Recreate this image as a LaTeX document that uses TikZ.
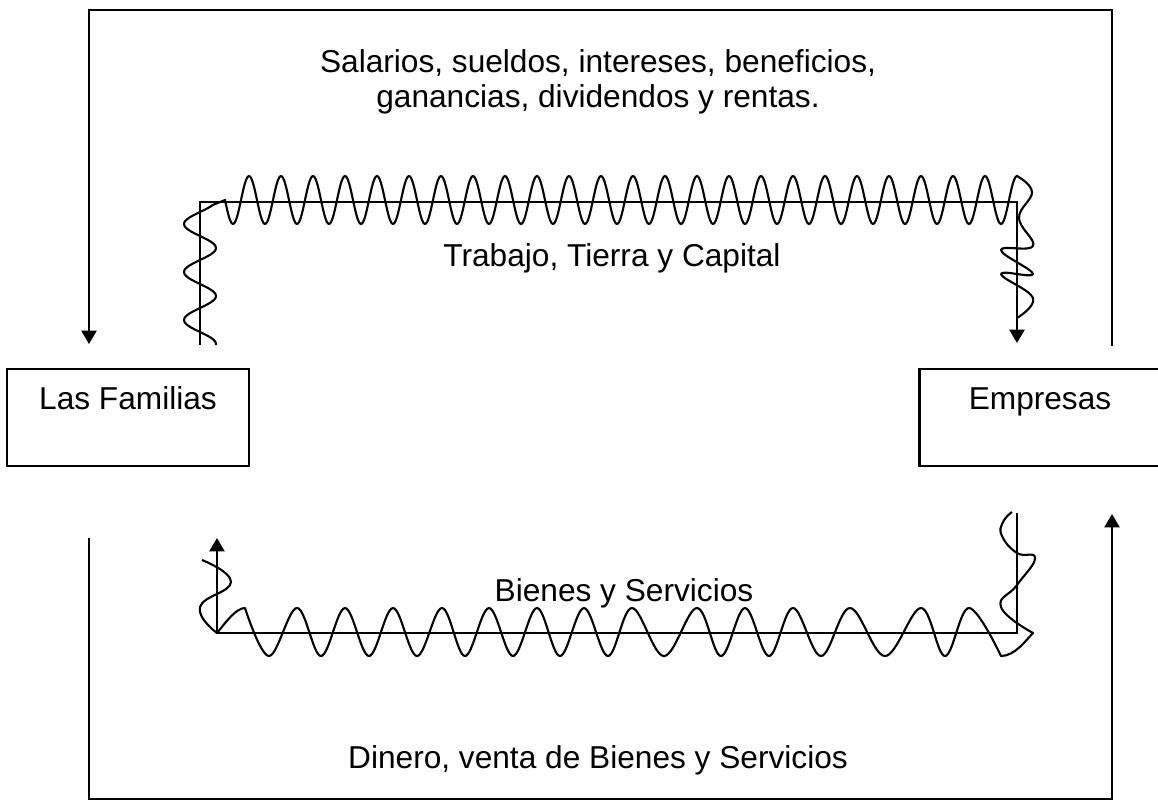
\documentclass[tikz,border=0pt]{standalone}
\usepackage{fontspec}
\setmainfont{Liberation Sans}
\usetikzlibrary{arrows.meta}

\begin{document}
\begin{tikzpicture}[
			x=0.01cm, y=-0.01cm,
			font=\fontsize{9pt}{10pt}\selectfont,
			box/.style={rectangle, draw, line width=0.6pt, minimum width=2.41cm, inner ysep=5pt, text height=6.4pt, text depth=11.2pt, anchor=base},
			flow/.style={line width=0.6pt},
			wave/.style={line width=0.6pt, line join=round},
			tip/.style={-{Triangle[width=4.3pt, length=3.8pt]}}
		]
		\useasboundingbox (0,0) rectangle (1158,802);

		% Sectores
		\node[box] (fam) at (128,409) {Las Familias};
		\node[box] (emp) at (1040,409) {Empresas};

		% Textos
		\node[align=center] (pagos) at (598,82) {Salarios, sueldos, intereses, beneficios,\\ganancias, dividendos y rentas.};
		\node[anchor=base] (factores) at (612,266) {Trabajo, Tierra y Capital};
		\node[anchor=base] (bienes) at (624,601) {Bienes y Servicios};
		\node[anchor=base] (dinero) at (598,768) {Dinero, venta de Bienes y Servicios};

		% Puntos de los flujos
		\coordinate (pago-ini) at (1112,346);
		\coordinate (pago-fin) at (89,344);
		\coordinate (techo) at (600,10);
		\coordinate (fac-ini) at (200,345);
		\coordinate (fac-fin) at (1017,343);
		\coordinate (fac-techo) at (600,202);
		\coordinate (bien-ini) at (1017,513);
		\coordinate (bien-fin) at (217,538);
		\coordinate (bien-suelo) at (600,633);
		\coordinate (venta-ini) at (89,538);
		\coordinate (venta-fin) at (1112,514);
		\coordinate (suelo) at (600,799);

		% Flujos de dinero
		\draw[flow, tip] (pago-ini) |- (techo) -| (pago-fin);
		\draw[flow, tip] (venta-ini) |- (suelo) -| (venta-fin);

		% Flujos reales
		\draw[flow, tip] (fac-ini) |- (fac-techo) -| (fac-fin);
		\draw[flow, tip] (bien-ini) |- (bien-suelo) -| (bien-fin);

		% Ondas
		\draw[wave] plot[domain=345:205, samples=80] ({200+16*sin(7.5*(\x-284))}, \x)
			-- plot[domain=225:1017, samples=600] (\x, {200+24*sin(11.25*(\x-225))})
			-- plot[smooth, tension=0.7] coordinates {(1017,176) (1032,192) (1019,218) (1033,246) (1001,250) (1033,274) (1001,274) (1033,298) (1017,318)};
		\draw[wave] plot[smooth, tension=0.8] coordinates {(202,560) (231,582) (200,607) (217,633)}
			.. controls (226,622) and (236,608) .. (245,608)
			-- plot[smooth, tension=0.6] coordinates {(245,608) (269,656) (297,608) (321,656) (345,608) (369,656) (393,608) (417,656) (442,608) (465,656) (489,608) (513,656) (537,608) (560,656) (584,608) (608,656) (632,608) (664,656) (697,608) (721,656) (745,608) (769,656) (793,608) (821,656) (850,608) (885,656) (921,608) (945,656) (969,608) (1001,656)}
			.. controls (1015,656) and (1026,640) .. (1033,633)
			-- plot[smooth, tension=0.8] coordinates {(1033,633) (1001,607) (1017,585) (1035,558) (1017,553) (1002,536) (1003,522) (1012,512)};

	\end{tikzpicture}
\end{document}
